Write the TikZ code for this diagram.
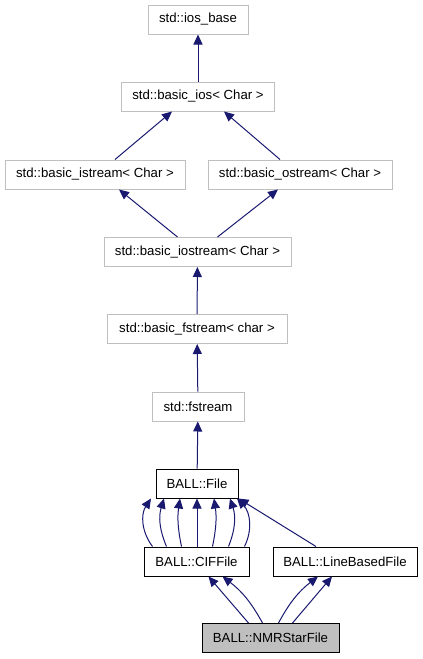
\documentclass[tikz,border=0pt]{standalone}
\usepackage{fontspec}
\setmainfont{Liberation Sans}
\usetikzlibrary{arrows.meta}
\definecolor{edgeblue}{HTML}{191970}
\definecolor{stdgray}{HTML}{BFBFBF}

\begin{document}
\begin{tikzpicture}[x=1pt,y=-1pt,
    box/.style={draw=stdgray, line width=1pt, minimum height=29pt, inner sep=0pt,
      font=\fontsize{13.2}{15}\selectfont},
    ballbox/.style={box, draw=black},
    inherit/.style={draw=edgeblue, line width=1pt, -{Triangle[length=10pt,width=9pt]}}]
			%%%%% START %%%%%
			\useasboundingbox (0, 0) rectangle (423, 659);
			
			\node[box, minimum width=100pt] (iosbase) at (198, 19.5) {std::ios\_base};
			\node[box, minimum width=153pt] (basicios) at (198, 96.5) {std::basic\_ios< Char >};
			\node[box, minimum width=180pt] (istream) at (95, 174.5) {std::basic\_istream< Char >};
			\node[box, minimum width=184pt] (ostream) at (300, 174.5) {std::basic\_ostream< Char >};
			\node[box, minimum width=187pt] (iostream) at (197.5, 252) {std::basic\_iostream< Char >};
			\node[box, minimum width=180pt] (bfstream) at (197, 329) {std::basic\_fstream< char >};
			\node[box, minimum width=92pt] (fstream) at (198, 406.5) {std::fstream};
			
			\node[ballbox, minimum width=82pt] (file) at (197, 483.5) {BALL::File};
			\node[ballbox, minimum width=105pt] (cif) at (196.5, 561.5) {BALL::CIFFile};
			\node[ballbox, minimum width=144pt] (linebased) at (345, 561.5) {BALL::LineBasedFile};
			\node[ballbox, minimum width=137pt, fill=stdgray] (nmr) at (270.5, 638) {BALL::NMRStarFile};
			
			\draw[inherit] (basicios) -- (iosbase);
			\draw[inherit] ([xshift=20pt]istream.north) -- ([xshift=-26pt]basicios.south);
			\draw[inherit] ([xshift=-20pt]ostream.north) -- ([xshift=26pt]basicios.south);
			\draw[inherit] ([xshift=-20pt]iostream.north) -- ([xshift=24pt]istream.south);
			\draw[inherit] ([xshift=20pt]iostream.north) -- ([xshift=-22pt]ostream.south);
			\draw[inherit] (bfstream) -- (iostream);
			\draw[inherit] (fstream) -- (bfstream);
			\draw[inherit] (file) -- (fstream);
			
			\draw[inherit] ([xshift=-44pt]cif.north) to[bend left=35] ([xshift=-46pt]file.south);
			\draw[inherit] ([xshift=-30pt]cif.north) to[bend left=20] ([xshift=-33pt]file.south);
			\draw[inherit] ([xshift=-15pt]cif.north) to[bend left=10] ([xshift=-17pt]file.south);
			\draw[inherit] ([xshift=0.5pt]cif.north) -- (file.south);
			\draw[inherit] ([xshift=16pt]cif.north) to[bend right=10] ([xshift=17pt]file.south);
			\draw[inherit] ([xshift=32pt]cif.north) to[bend right=20] ([xshift=33pt]file.south);
			\draw[inherit] ([xshift=48pt]cif.north) to[bend right=35] ([xshift=40pt]file.south);
			\draw[inherit] ([xshift=-29pt]linebased.north) -- (file.south east);
			
			\draw[inherit] ([xshift=-22pt]nmr.north) -- ([xshift=12pt]cif.south);
			\draw[inherit] ([xshift=-8pt]nmr.north) to[bend right=12] ([xshift=26pt]cif.south);
			\draw[inherit] ([xshift=8pt]nmr.north) to[bend left=12] ([xshift=-27pt]linebased.south);
			\draw[inherit] ([xshift=22pt]nmr.north) -- ([xshift=-13pt]linebased.south);
			%%%%% END %%%%%
\end{tikzpicture}
\end{document}
